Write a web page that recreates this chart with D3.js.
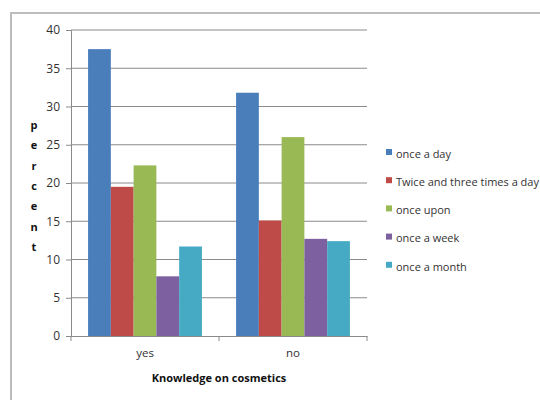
<!DOCTYPE html>
<html><head><meta charset="utf-8">
<script src="https://cdn.jsdelivr.net/npm/d3@7"></script>
<style>
html,body{margin:0;padding:0;background:#fff;}
text{font-family:"Open Sans","Noto Sans",sans-serif;}
</style></head>
<body>
<svg id="c" width="540" height="400"></svg>
<script>
const categories = ["yes", "no"];
const seriesNames = ["once a day", "Twice and three times a day", "once upon", "once a week", "once a month"];
const seriesColors = ["#4a7ebb", "#be4b48", "#98b954", "#7d60a0", "#46aac5"];
const valuesOnceADay = [37.5, 31.8];
const valuesTwiceThrice = [19.5, 15.1];
const valuesOnceUpon = [22.3, 26.0];
const valuesOnceAWeek = [7.8, 12.7];
const valuesOnceAMonth = [11.7, 12.4];
const yTicks = [0, 5, 10, 15, 20, 25, 30, 35, 40];
const yTitle = "percent";
const xTitle = "Knowledge on cosmetics";

const seriesValues = [valuesOnceADay, valuesTwiceThrice, valuesOnceUpon, valuesOnceAWeek, valuesOnceAMonth];

const svg = d3.select("#c");
svg.append("path").attr("d", "M11,400 L11,13 L540,13")
  .attr("fill", "none").attr("stroke", "#bdbdbd").attr("stroke-width", 2);

const pL = 71, pR = 367, pT = 30, pB = 336;
const y = d3.scaleLinear().domain([0, 40]).range([pB, pT]);
const x0 = d3.scaleBand().domain(categories).range([pL, pR]).paddingInner(0).paddingOuter(0);
const nS = seriesNames.length;
const x1 = d3.scaleBand().domain(d3.range(nS)).range([0, x0.bandwidth()]).paddingInner(0).paddingOuter(0.75);

// gridlines
svg.append("g").selectAll("line").data(yTicks.filter(t => t > 0)).join("line")
  .attr("x1", pL).attr("x2", pR)
  .attr("y1", d => y(d)).attr("y2", d => y(d))
  .attr("stroke", "#8a8a8a").attr("stroke-width", 1);

// y axis
const yAxis = svg.append("g").attr("transform", `translate(${pL},0)`)
  .call(d3.axisLeft(y).tickValues(yTicks).tickSize(5).tickPadding(6));
yAxis.select(".domain").attr("stroke", "#8a8a8a");
yAxis.selectAll(".tick line").attr("stroke", "#8a8a8a");
yAxis.selectAll(".tick text").attr("font-size", 12).attr("fill", "#333").attr("font-family", '"Open Sans",sans-serif');

// bars
const groups = svg.append("g").selectAll("g").data(categories).join("g")
  .attr("transform", d => `translate(${x0(d)},0)`);
groups.selectAll("rect").data((c, ci) => seriesValues.map((s, si) => ({si, v: s[ci]}))).join("rect")
  .attr("x", d => x1(d.si))
  .attr("width", x1.bandwidth())
  .attr("y", d => y(d.v))
  .attr("height", d => pB - y(d.v))
  .attr("fill", d => seriesColors[d.si]);

// x axis
const xAxis = svg.append("g").attr("transform", `translate(0,${pB})`)
  .call(d3.axisBottom(x0).tickSize(0).tickPadding(13));
xAxis.select(".domain").attr("stroke", "#8a8a8a");
xAxis.selectAll(".tick text").attr("font-size", 11.5).attr("fill", "#333").attr("font-family", '"Open Sans",sans-serif');
svg.append("g").selectAll("line").data([pL, pL + x0.bandwidth(), pR]).join("line")
  .attr("x1", d => d).attr("x2", d => d).attr("y1", pB).attr("y2", pB + 5)
  .attr("stroke", "#8a8a8a");

// x title
svg.append("text").attr("x", (pL + pR) / 2).attr("y", 382).attr("text-anchor", "middle")
  .attr("font-size", 11).attr("font-weight", "bold").attr("fill", "#111").text(xTitle);

// y title stacked letters
svg.append("g").selectAll("text").data(yTitle.split("")).join("text")
  .attr("x", 34).attr("y", (d, i) => 129 + i * 20.3).attr("text-anchor", "middle")
  .attr("font-size", 11).attr("font-weight", "bold").attr("fill", "#111").text(d => d);

// legend
const lg = svg.append("g").selectAll("g").data(seriesNames).join("g")
  .attr("transform", (d, i) => `translate(386,${154 + i * 28.2})`);
lg.append("rect").attr("x", 0).attr("y", -5).attr("width", 6).attr("height", 6)
  .attr("fill", (d, i) => seriesColors[i]);
lg.append("text").attr("x", 10).attr("y", 0).attr("dy", "0.35em")
  .attr("font-size", 11).attr("fill", "#333").text(d => d);
</script>
</body></html>
